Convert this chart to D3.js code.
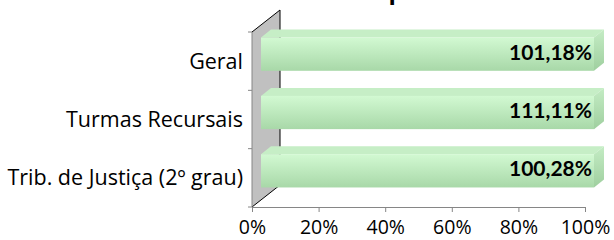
<!DOCTYPE html>
<html>
<head>
<meta charset="utf-8">
<script src="https://cdn.jsdelivr.net/npm/d3@7"></script>
<style>
  body { margin: 0; background: #fff; }
  text { font-family: "Open Sans", Lato, sans-serif; }
</style>
</head>
<body>
<div id="chart"></div>
<script>
// data
const categories = ["Geral", "Turmas Recursais", "Trib. de Justiça (2º grau)"];
const values = [1.0118, 1.1111, 1.0028];
const valueLabels = ["101,18%", "111,11%", "100,28%"];
const xTicks = [0, 0.2, 0.4, 0.6, 0.8, 1];
const titleText = "Índice de Cumprimento da Meta";

const width = 614, height = 240;
const margin = { top: 32, right: 29, bottom: 33, left: 252 };
const plotW = width - margin.left - margin.right;
const plotH = height - margin.top - margin.bottom;

// 3D depth of the wall, and of the bars inside it
const depth = { x: 28, y: -22 };
const barOff = { x: 9, y: -7 };
const barDepth = { x: 10, y: -8 };

const svg = d3.select("#chart").append("svg")
    .attr("width", width)
    .attr("height", height);

const defs = svg.append("defs");
const gFront = defs.append("linearGradient").attr("id", "front")
    .attr("x1", 0).attr("y1", 0).attr("x2", 0).attr("y2", 1);
gFront.append("stop").attr("offset", "0%").attr("stop-color", "#d2f9d2");
gFront.append("stop").attr("offset", "100%").attr("stop-color", "#a8d8a8");
const gSide = defs.append("linearGradient").attr("id", "side")
    .attr("x1", 0).attr("y1", 0).attr("x2", 0).attr("y2", 1);
gSide.append("stop").attr("offset", "0%").attr("stop-color", "#c4ecc4");
gSide.append("stop").attr("offset", "100%").attr("stop-color", "#9fcf9f");

const g = svg.append("g")
    .attr("transform", "translate(" + margin.left + "," + margin.top + ")");

const x = d3.scaleLinear().domain([0, 1]).range([0, plotW]);
const y = d3.scaleBand().domain(categories).range([0, plotH])
    .paddingInner(0.43).paddingOuter(0.215);

// side wall
g.append("path")
    .attr("d", d3.line()([[0, plotH], [0, 0], [depth.x, depth.y], [depth.x, plotH + depth.y], [0, plotH]]))
    .attr("fill", "#c0c0c0")
    .attr("stroke", "none");
g.append("path")
    .attr("d", d3.line()([[0, 0], [depth.x, depth.y], [depth.x, plotH + depth.y], [0, plotH]]))
    .attr("fill", "none")
    .attr("stroke", "#000")
    .attr("stroke-width", 1);

// left axis line + ticks at band edges
g.append("line")
    .attr("x1", 0).attr("x2", 0).attr("y1", 0).attr("y2", plotH)
    .attr("stroke", "#868686");
const edges = categories.map(c => y(c) - y.step() * y.paddingInner() / 2).concat([plotH]);
g.selectAll(".ytick").data(edges).join("line")
    .attr("x1", -4).attr("x2", 0)
    .attr("y1", d => d).attr("y2", d => d)
    .attr("stroke", "#868686");

// bottom axis
const xAxis = g.append("g")
    .attr("transform", "translate(0," + plotH + ")")
    .call(d3.axisBottom(x).tickValues(xTicks).tickFormat(d3.format(".0%")).tickSize(5).tickPadding(8));
xAxis.select(".domain").attr("stroke", "#868686");
xAxis.selectAll(".tick line").attr("stroke", "#868686");
xAxis.selectAll("text")
    .attr("font-size", 19.5)
    .attr("fill", "#000")
    .style("font-family", "'Open Sans', sans-serif");

// category labels
g.selectAll(".cat").data(categories).join("text")
    .attr("x", -9)
    .attr("y", d => y(d) + y.bandwidth() / 2)
    .attr("dy", "0.35em")
    .attr("text-anchor", "end")
    .attr("font-size", 21.5)
    .text(d => d);

// bars (clipped at the axis maximum)
const bars = g.selectAll(".bar").data(values).join("g").attr("class", "bar");
bars.each(function(v, i) {
    const b = d3.select(this);
    const x0 = x(0) + barOff.x;
    const x1 = x(Math.min(v, 1)) + barOff.x;
    const y0 = y(categories[i]) + barOff.y;
    const y1 = y0 + y.bandwidth();
    // top face
    b.append("path")
        .attr("d", d3.line()([[x0, y0], [x0 + barDepth.x, y0 + barDepth.y], [x1 + barDepth.x, y0 + barDepth.y], [x1, y0]]) + "Z")
        .attr("fill", "#c6eec6");
    // side face
    b.append("path")
        .attr("d", d3.line()([[x1, y0], [x1 + barDepth.x, y0 + barDepth.y], [x1 + barDepth.x, y1 + barDepth.y], [x1, y1]]) + "Z")
        .attr("fill", "url(#side)");
    // front face
    b.append("rect")
        .attr("x", x0).attr("y", y0)
        .attr("width", x1 - x0).attr("height", y1 - y0)
        .attr("fill", "url(#front)");
    // value label
    b.append("text")
        .attr("x", x1 - 2)
        .attr("y", (y0 + y1) / 2 - 2)
        .attr("dy", "0.35em")
        .attr("text-anchor", "end")
        .attr("font-size", 21)
        .attr("font-weight", "bold")
        .style("font-family", "Lato, sans-serif")
        .text(valueLabels[i]);
});

// title, mostly cut off above the picture
const title = svg.append("text")
    .attr("y", -1)
    .attr("font-size", 24)
    .attr("font-weight", "bold")
    .text(titleText);
const pIdx = titleText.indexOf("p");
const node = title.node();
const before = node.getSubStringLength(0, pIdx);
const pW = node.getSubStringLength(pIdx, 1);
title.attr("x", 396 - before - pW / 2);
</script>
</body>
</html>
